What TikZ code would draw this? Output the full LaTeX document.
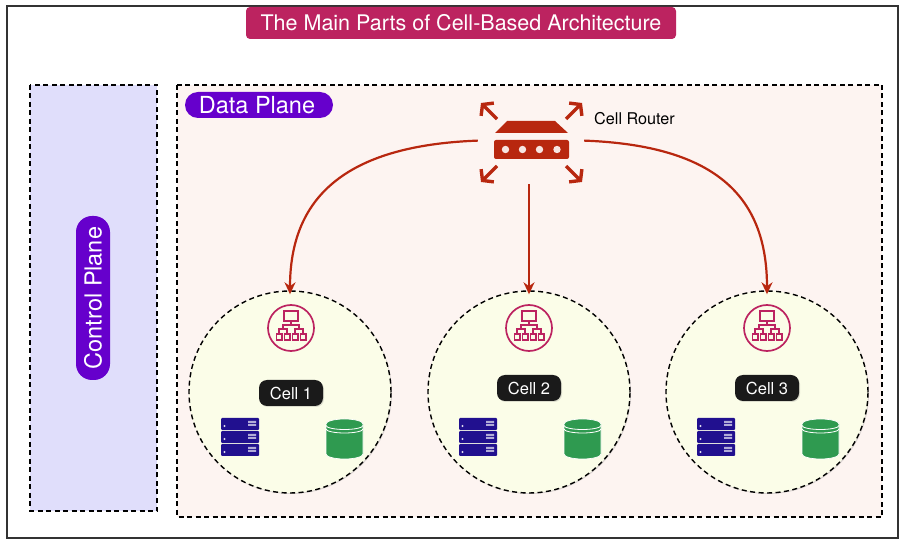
\documentclass[tikz,border=0pt]{standalone}
\usepackage{fontspec}
\setmainfont{TeX Gyre Heros}
\usetikzlibrary{arrows.meta,shadows}
\definecolor{titlepink}{HTML}{BC2360}
\definecolor{planepurple}{HTML}{6600CC}
\definecolor{controlfill}{HTML}{E0DEFB}
\definecolor{datafill}{HTML}{FDF4F1}
\definecolor{cellfill}{HTML}{FBFDE8}
\definecolor{routerred}{HTML}{B8270F}
\definecolor{serverblue}{HTML}{21108F}
\definecolor{dbgreen}{HTML}{2F9A50}
\definecolor{labelblack}{HTML}{1A1A1A}
\tikzset{
  softshadow/.style={drop shadow={shadow xshift=1pt,shadow yshift=-1pt,opacity=0.25}},
  planebox/.style={draw=black,line width=1.4pt,dash pattern=on 5pt off 3.5pt},
  pill/.style={fill=planepurple,text=white,rounded corners=13pt,inner sep=0pt,font=\fontsize{23.5}{26}\selectfont},
  cellcircle/.style={circle,draw=black,fill=cellfill,line width=1.4pt,dash pattern=on 5pt off 3.5pt,minimum size=202pt,inner sep=0pt,softshadow},
  celllabel/.style={fill=labelblack,text=white,rounded corners=8pt,minimum width=64pt,minimum height=26pt,inner sep=0pt,font=\fontsize{16.5}{18}\selectfont,softshadow},
  feed/.style={draw=routerred,line width=2.2pt,-{Stealth[length=12pt,width=11pt]}},
  burst/.style={draw=routerred,line width=3.4pt,-{Straight Barb[length=7pt,width=18pt,line width=3.4pt]}},
  pics/orgicon/.style={code={
    \draw[titlepink,line width=1.7pt] (0,0) circle (23);
    \draw[titlepink,line width=1.4pt] (-7,-17) rectangle (7,-7) (0,-7) -- (0,-3) (-8,1) -- (-8,-3) -- (8,-3) -- (8,1)
      (-12,6) -- (-12,1) -- (-4,1) -- (-4,6) (4,6) -- (4,1) -- (12,1) -- (12,6);
    \foreach \bx in {-12,-4,4,12} \draw[titlepink,line width=1.4pt] (\bx-2.8,6) rectangle (\bx+2.8,12);
  }},
  pics/serverunit/.style={code={
    \fill[serverblue,rounded corners=1pt] (0,0) rectangle (38,12);
    \fill[white!85!serverblue] (3.5,8) circle (1.1);
    \fill[white!65!serverblue] (27,3) rectangle (35,5) (27,6) rectangle (35,8);
  }},
  pics/dbicon/.style={code={
    \fill[dbgreen,draw=white,line width=0.7pt] (0,6) arc[start angle=180,end angle=360,x radius=18.5,y radius=5] -- (37,36) arc[start angle=0,end angle=180,x radius=18.5,y radius=5] -- cycle;
    \draw[white,line width=0.8pt] (0,7.5) arc[start angle=180,end angle=0,x radius=18.5,y radius=4] (0,11) arc[start angle=180,end angle=0,x radius=18.5,y radius=4];
  }},
}
\begin{document}
\begin{tikzpicture}[x=1pt,y=-1pt]
  \useasboundingbox (0,0) rectangle (906,545);
  \draw[line width=1.4pt,draw=black!80] (7,6) rectangle (898,538);
  \node[fill=titlepink,text=white,rounded corners=4pt,minimum width=430pt,minimum height=32pt,inner sep=0pt,font=\fontsize{21.5}{24}\selectfont] (title) at (461,23) {The Main Parts of Cell-Based Architecture};
  % planes
  \filldraw[planebox,fill=controlfill] (30,85) rectangle (157,511);
  \filldraw[planebox,fill=datafill] (177,85) rectangle (882,517);
  \node[pill,minimum width=148pt,minimum height=26pt] (dataplane) at (259,105) {\hspace*{-4pt}Data Plane};
  \node[pill,rotate=90,rounded corners=16pt,minimum width=164pt,minimum height=34pt] (controlplane) at (93,298) {Control Plane};
  % router
  \node[minimum width=106pt,minimum height=68pt,inner sep=0pt] (router) at (531,150) {};
  \node[anchor=west,inner sep=0pt,font=\fontsize{16.2}{18}\selectfont] (routerlabel) at (594,119) {Cell Router};
  \fill[routerred] (495,133) -- (507,121) -- (555,121) -- (568,133) -- cycle;
  \fill[routerred,rounded corners=2pt] (494,140) rectangle (569,159);
  \foreach \dx in {505.5,522.5,539.5,557} \fill[white!88!routerred] (\dx,149.5) circle (3.7);
  \coordinate (burstnw) at (481,103);
  \coordinate (burstne) at (582,103);
  \coordinate (burstsw) at (481,182);
  \coordinate (burstse) at (582,182);
  \draw[burst] (497,119) -- (burstnw);
  \draw[burst] (566,119) -- (burstne);
  \draw[burst] (497,166) -- (burstsw);
  \draw[burst] (566,166) -- (burstse);
  % cells
  \foreach \cx/\cn/\ix/\ly in {290/1/291/393,529/2/529/388,767/3/767/388} {
    \node[cellcircle] (cell\cn) at (\cx,392) {};
    \pic at (\ix,328) {orgicon};
    \node[celllabel] (celllabel\cn) at (\ix,\ly) {Cell \cn};
    \foreach \sy in {418,431,444} \pic at (\ix-70,\sy) {serverunit};
    \pic at (\ix+35,418) {dbicon};
  }
  % connectors
  \draw[feed] (router.170) .. controls +(-135,5) and +(0,-95) .. ([yshift=-4pt]cell1.north);
  \draw[feed] ([xshift=-2pt]router.south) -- ([yshift=-4pt]cell2.north);
  \draw[feed] (router.10) .. controls +(135,5) and +(0,-95) .. ([yshift=-4pt]cell3.north);
\end{tikzpicture}
\end{document}
